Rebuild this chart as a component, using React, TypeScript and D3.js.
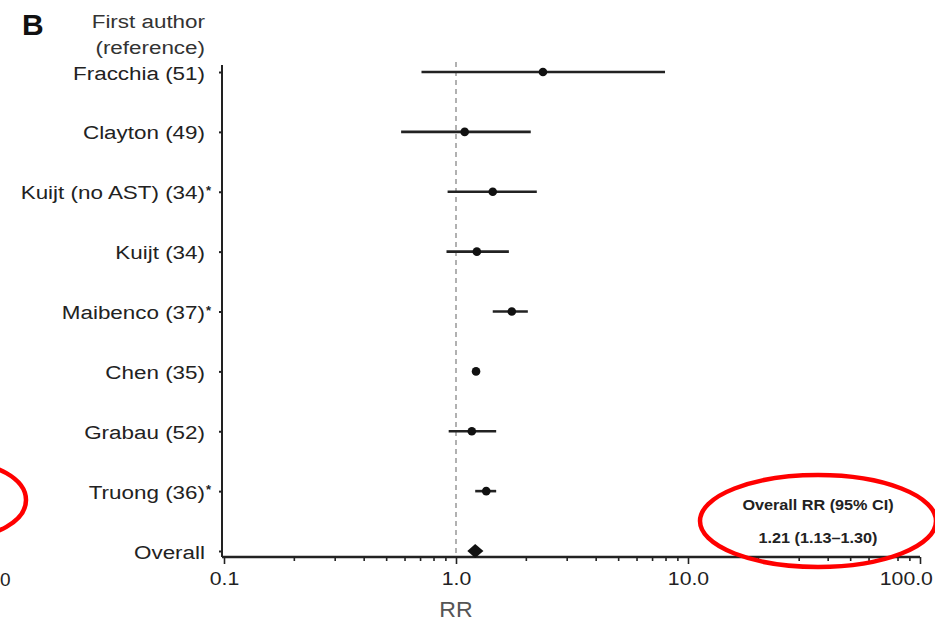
import React, { useEffect, useRef } from 'react';
import * as d3 from 'd3';

const authors = [
  'Fracchia (51)',
  'Clayton (49)',
  'Kuijt (no AST) (34)',
  'Kuijt (34)',
  'Maibenco (37)',
  'Chen (35)',
  'Grabau (52)',
  'Truong (36)',
  'Overall',
];
const starred = [false, false, true, false, true, false, false, true, false];
const rr = [2.37, 1.09, 1.44, 1.23, 1.74, 1.22, 1.17, 1.35, 1.21];
const lower = [0.71, 0.58, 0.92, 0.91, 1.44, 1.18, 0.93, 1.21, 1.13];
const upper = [7.96, 2.1, 2.23, 1.69, 2.04, 1.26, 1.49, 1.49, 1.3];

const majorTicks = [0.1, 1, 10, 100];
const minorTicks = [0.2, 0.3, 0.4, 0.5, 0.6, 0.7, 0.8, 0.9, 2, 3, 4, 5, 6, 7, 8, 9, 20, 30, 40, 50, 60, 70, 80, 90];

const FONT = '"Liberation Sans", Arial, Helvetica, sans-serif';
const STRETCH = 1.18;

// text drawn a little wider than the font, like the scanned figure
const SText = ({ x, y, sx = STRETCH, children, ...rest }: any) => (
  <text transform={`translate(${x},${y}) scale(${sx},1)`} {...rest}>
    {children}
  </text>
);

const App = () => {
  const xAxisRef = useRef<SVGGElement>(null);
  const yAxisRef = useRef<SVGGElement>(null);

  const x = d3.scaleLog().domain([0.1, 100]).range([224, 920]);
  const y = d3.scalePoint<string>().domain(authors).range([72, 551]);

  useEffect(() => {
    const gx = d3.select(xAxisRef.current);
    gx.selectAll('*').remove();

    gx.append('g')
      .call(d3.axisBottom(x).tickValues(minorTicks).tickSize(4).tickSizeOuter(0).tickFormat(() => ''))
      .call(g => g.select('.domain').remove());

    gx.append('g')
      .call(d3.axisBottom(x).tickValues(majorTicks).tickSize(7).tickSizeOuter(0).tickFormat(d3.format('.1f')))
      .call(g => g.select('.domain').attr('d', 'M222,0H920'));

    gx.selectAll('line').attr('stroke', '#222').attr('stroke-width', 1.6);
    gx.select('.domain').attr('stroke', '#222').attr('stroke-width', 2.4);

    gx.selectAll('text')
      .style('font-family', FONT)
      .style('font-size', '18px')
      .attr('fill', '#222')
      .attr('y', 15)
      .attr('dy', '0.71em')
      .attr('dx', (d: any) => (d === 100 ? -12 : 0))
      .attr('transform', `scale(${STRETCH},1)`);

    const gy = d3.select(yAxisRef.current);
    gy.selectAll('*').remove();
    gy.call(d3.axisLeft(y).tickSize(3).tickSizeOuter(0).tickFormat(() => ''))
      .call(g => g.select('.domain').attr('d', 'M0,65V557'))
      .call(g => g.selectAll('line, path').attr('stroke', '#222').attr('stroke-width', 2));
  }, []);

  const lastIdx = authors.length - 1;
  const dLo = x(lower[lastIdx]);
  const dHi = x(upper[lastIdx]);
  const dMid = x(rr[lastIdx]);
  const dY = y(authors[lastIdx]) as number;

  return (
    <svg
      width={935}
      height={623}
      style={{ position: 'absolute', left: 0, top: 0, background: '#fff' }}
      fontFamily={FONT}
    >
      <text x={22} y={35} fontSize={30} fontWeight="bold" fill="#111">B</text>
      <SText x={205} y={28} fontSize={19} textAnchor="end" fill="#333">First author</SText>
      <SText x={205} y={54} fontSize={19} textAnchor="end" fill="#333">(reference)</SText>

      {authors.map((a, i) => (
        <g key={a}>
          <SText x={205} y={(y(a) as number) + 7.5} fontSize={19} textAnchor="end" fill="#222">
            {a}
          </SText>
          {starred[i] && (
            <text x={206} y={(y(a) as number) + 3} fontSize={13} fontWeight="bold" fill="#222">*</text>
          )}
        </g>
      ))}

      <line x1={x(1)} x2={x(1)} y1={62} y2={557} stroke="#888" strokeWidth={1.3} strokeDasharray="5,4" />

      <g ref={yAxisRef} transform="translate(222,0)" />
      <g ref={xAxisRef} transform="translate(0,557)" />

      {authors.slice(0, lastIdx).map((a, i) => (
        <g key={a}>
          <line
            x1={x(lower[i])}
            x2={x(upper[i])}
            y1={y(a) as number}
            y2={y(a) as number}
            stroke="#222"
            strokeWidth={2.6}
          />
          <circle cx={x(rr[i])} cy={y(a) as number} r={4.3} fill="#111" />
        </g>
      ))}

      <path
        d={`M${dLo - 1},${dY}L${dMid},${dY - 7}L${dHi + 1},${dY}L${dMid},${dY + 7}Z`}
        fill="#111"
      />

      <SText x={x(1)} y={617} sx={1.05} fontSize={22} textAnchor="middle" fill="#555">RR</SText>

      <SText x={818} y={510} sx={1.08} fontSize={15} fontWeight="bold" textAnchor="middle" fill="#222">
        Overall RR (95% CI)
      </SText>
      <SText x={818} y={543} sx={1.08} fontSize={15} fontWeight="bold" textAnchor="middle" fill="#222">
        1.21 (1.13–1.30)
      </SText>

      <ellipse cx={818} cy={521} rx={118} ry={46} fill="none" stroke="#f00" strokeWidth={4.5} />
      <ellipse cx={-41} cy={500} rx={67} ry={38} fill="none" stroke="#f00" strokeWidth={4.5} />

      <text x={0} y={586} fontSize={19} fill="#222">0</text>
    </svg>
  );
};

export default App;
